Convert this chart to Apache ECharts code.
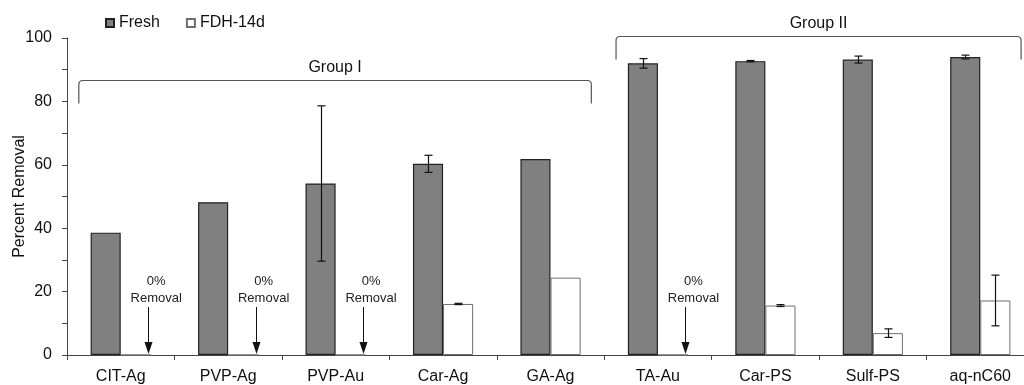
<!DOCTYPE html>
<html>
<head>
<meta charset="utf-8">
<script src="https://cdn.jsdelivr.net/npm/echarts@6/dist/echarts.min.js"></script>
<style>
html,body{margin:0;padding:0;background:#fff;}
#chart{width:1024px;height:385px;}
</style>
</head>
<body>
<div id="chart"></div>
<script>
const categories = ['CIT-Ag', 'PVP-Ag', 'PVP-Au', 'Car-Ag', 'GA-Ag', 'TA-Au', 'Car-PS', 'Sulf-PS', 'aq-nC60'];
const fresh = [38.6, 48.2, 54.1, 60.3, 61.8, 92.0, 92.7, 93.2, 94.0];
const freshErr = [0, 0, 24.5, 2.7, 0, 1.5, 0.2, 1.1, 0.6];
const fdh = [0, 0, 0, 16.1, 24.4, 0, 15.6, 6.9, 17.2];
const fdhErr = [0, 0, 0, 0.2, 0, 0, 0.3, 1.35, 8.0];
const groupNames = ['Group I', 'Group II'];
const groupFrom = [0, 5];
const groupTo = [4, 8];
const groupLevel = [86.9, 100.6];
const zeroLabel = '0%\nRemoval';

const FONT = '"Liberation Sans", Arial, sans-serif';
const TXT = '#111';
const BAR_FRAC = 0.28;

function errData(vals, errs) {
  const out = [];
  vals.forEach((v, i) => { if (errs[i] > 0) out.push([i, v - errs[i], v + errs[i]]); });
  return out;
}

function errRender(sign) {
  return function (params, api) {
    const i = api.value(0);
    const band = api.size([1, 0])[0];
    const off = sign * band * BAR_FRAC / 2;
    const lo = api.coord([i, api.value(1)]);
    const hi = api.coord([i, api.value(2)]);
    const x = Math.round(lo[0] + off) + 0.5;
    const cap = 4;
    const st = { stroke: '#111', lineWidth: 1.2 };
    return {
      type: 'group',
      children: [
        { type: 'line', shape: { x1: x, y1: lo[1], x2: x, y2: hi[1] }, style: st },
        { type: 'line', shape: { x1: x - cap, y1: lo[1], x2: x + cap, y2: lo[1] }, style: st },
        { type: 'line', shape: { x1: x - cap, y1: hi[1], x2: x + cap, y2: hi[1] }, style: st }
      ]
    };
  };
}

const bracketData = groupNames.map((n, k) => [groupFrom[k], groupTo[k], groupLevel[k], n]);

function bracketRender(params, api) {
  const a = api.value(0), b = api.value(1), lv = api.value(2);
  const name = bracketData[params.dataIndex][3];
  const band = api.size([1, 0])[0];
  const pa = api.coord([a, lv]);
  const pb = api.coord([b, lv]);
  const x0 = pa[0] - band * 0.39;
  const x1 = pb[0] + band * 0.38;
  const y0 = Math.round(pa[1]) + 0.5;
  const h = 23, r = 4;
  const path = 'M' + x0 + ',' + (y0 + h) + ' L' + x0 + ',' + (y0 + r) +
    ' Q' + x0 + ',' + y0 + ' ' + (x0 + r) + ',' + y0 +
    ' L' + (x1 - r) + ',' + y0 + ' Q' + x1 + ',' + y0 + ' ' + x1 + ',' + (y0 + r) +
    ' L' + x1 + ',' + (y0 + h);
  return {
    type: 'group',
    children: [
      { type: 'path', shape: { pathData: path }, style: { stroke: '#555', lineWidth: 1.2, fill: null } },
      { type: 'text', style: { text: name, x: (x0 + x1) / 2, y: y0 - 13, align: 'center', verticalAlign: 'middle',
        font: '16px ' + FONT, fill: TXT } }
    ]
  };
}

const zeroData = [];
fdh.forEach((v, i) => { if (v === 0) zeroData.push([i, 0]); });

function zeroRender(params, api) {
  const i = api.value(0);
  const band = api.size([1, 0])[0];
  const p = api.coord([i, 0]);
  const ax = Math.round(p[0] + band * 0.255) + 0.5;
  const tx = p[0] + band * 0.33;
  const y = p[1];
  return {
    type: 'group',
    children: [
      { type: 'text', style: { text: zeroLabel, x: tx, y: y - 81.5, align: 'center', verticalAlign: 'top',
        lineHeight: 16.5, font: '13px ' + FONT, fill: '#222' } },
      { type: 'line', shape: { x1: ax, y1: y - 48, x2: ax, y2: y - 12 }, style: { stroke: '#111', lineWidth: 1 } },
      { type: 'polygon', shape: { points: [[ax - 4, y - 13], [ax + 4, y - 13], [ax, y - 1]] }, style: { fill: '#111' } }
    ]
  };
}

const chart = echarts.init(document.getElementById('chart'), null, { renderer: 'canvas' });
chart.setOption({
  animation: false,
  backgroundColor: '#fff',
  textStyle: { fontFamily: FONT, color: TXT },
  legend: {
    data: ['Fresh', 'FDH-14d'],
    left: 100,
    top: 10,
    icon: 'rect',
    itemWidth: 8,
    itemHeight: 8,
    itemGap: 26,
    textStyle: { fontSize: 16, color: TXT, fontFamily: FONT }
  },
  grid: { left: 67, right: -10, top: 38, bottom: 30, containLabel: false, outerBoundsMode: 'none' },
  xAxis: {
    type: 'category',
    data: categories,
    axisLine: { lineStyle: { color: '#444', width: 1 } },
    axisTick: { show: true, length: 5, lineStyle: { color: '#444' } },
    axisLabel: { interval: 0, fontSize: 16, color: TXT, margin: 14, fontFamily: FONT }
  },
  yAxis: {
    type: 'value',
    min: 0, max: 100, interval: 10,
    name: 'Percent Removal',
    nameLocation: 'middle',
    nameGap: 39,
    nameMoveOverlap: false,
    nameTextStyle: { fontSize: 16, color: TXT, fontFamily: FONT },
    axisLine: { show: true, lineStyle: { color: '#444', width: 1 } },
    axisTick: { show: true, length: 5, lineStyle: { color: '#444' } },
    splitLine: { show: false },
    axisLabel: { fontSize: 16, color: TXT, margin: 15, fontFamily: FONT,
      formatter: v => (v % 20 === 0 ? String(v) : '') }
  },
  series: [
    { name: 'Fresh', type: 'bar', data: fresh, barWidth: (BAR_FRAC * 100) + '%', barGap: '0%',
      itemStyle: { color: '#808080', borderColor: '#222', borderWidth: 1.2 } },
    { name: 'FDH-14d', type: 'bar', data: fdh, barWidth: (BAR_FRAC * 100) + '%', barGap: '0%',
      itemStyle: { color: '#ffffff', borderColor: '#6e6e6e', borderWidth: 1 } },
    { type: 'custom', name: 'freshErr', data: errData(fresh, freshErr), encode: { x: 0, y: [1, 2] },
      renderItem: errRender(-1), z: 5, silent: true },
    { type: 'custom', name: 'fdhErr', data: errData(fdh, fdhErr), encode: { x: 0, y: [1, 2] },
      renderItem: errRender(1), z: 5, silent: true },
    { type: 'custom', name: 'brackets', data: bracketData.map(d => d.slice(0, 3)), encode: { x: [0, 1], y: 2 },
      renderItem: bracketRender, clip: false, z: 6, silent: true },
    { type: 'custom', name: 'zero', data: zeroData, encode: { x: 0, y: 1 },
      renderItem: zeroRender, clip: false, z: 6, silent: true }
  ]
});
</script>
</body>
</html>
